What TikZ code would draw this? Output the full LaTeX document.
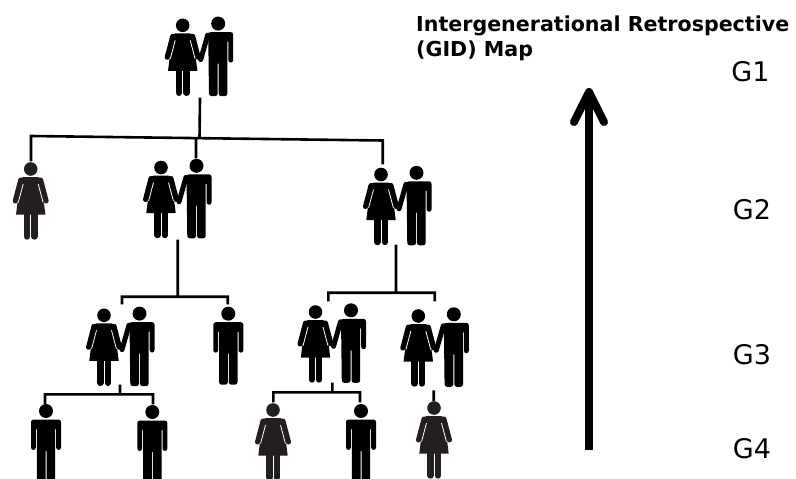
\documentclass[tikz,border=0pt]{standalone}
\usepackage{fontspec}
\setmainfont{DejaVu Sans}
\usetikzlibrary{arrows.meta}
\definecolor{softblack}{HTML}{231F20}
\tikzset{
  slit/.style={white,line width=.8pt},
  limb/.style={line width=5pt,line cap=round},
  leg/.style={line width=6.4pt,line cap=round},
  wire/.style={line width=2.6pt,line cap=rect},
  pics/woman/.style={code={
    \fill (0,0) circle (6.8);
    \fill (-14.7,45.5) [rounded corners=3] -- (-10,8) -- (10,8) [sharp corners] -- (14.7,45.5) -- cycle;
    \draw[limb] (-10,11) -- (-15.5,32);
    \draw[limb] (10,11) -- (15.5,32);
    \draw[slit] (-7.5,15) -- (-12.4,33.5);
    \draw[slit] (7.5,15) -- (12.4,33.5);
    \draw[leg] (-3.7,45) -- (-3.7,67.5);
    \draw[leg] (3.7,45) -- (3.7,67.5);
  }},
  pics/man/.style={code={
    \fill (0,0) circle (7);
    \fill[rounded corners=2.5] (-15,39) -- (-15,8.5) -- (15,8.5) -- (15,39) -- (10.2,39) -- (10.2,16)
      -- (9.2,16) -- (9.2,71) -- (.5,71) -- (.5,38) -- (-.5,38) -- (-.5,71) -- (-9.2,71)
      -- (-9.2,16) -- (-10.2,16) -- (-10.2,39) -- cycle;
  }},
  pics/couple/.style={code={
    \pic at (0,0) {woman};
    \begin{scope}[shift={(35.5,-1.7)}]
      \fill (0,0) circle (7);
      \fill[rounded corners=2.5] (-10,8.5) -- (15,8.5) -- (15,39) -- (10.2,39) -- (10.2,16) -- (9.2,16)
        -- (9.2,72.5) -- (.5,72.5) -- (.5,38) -- (-.5,38) -- (-.5,72.5) -- (-9.2,72.5) -- cycle;
      \draw[limb] (-10.5,11.5) -- (-17.5,36);
    \end{scope}
  }}
}

\begin{document}
\begin{tikzpicture}[x=1pt,y=-1pt]
  \useasboundingbox (0,0) rectangle (796,479);

  % generations, top to bottom
  \pic at (182.7,25.3) {couple};
  \pic[color=softblack] at (30.7,169) {woman};
  \pic at (161,167.5) {couple};
  \pic at (381,174.5) {couple};
  \pic at (104,315.3) {couple};
  \pic at (228.3,313.7) {man};
  \pic at (315.5,312) {couple};
  \pic at (418.3,316) {couple};
  \pic at (46,411) {man};
  \pic at (152.3,412) {man};
  \pic[color=softblack] at (273,410) {woman};
  \pic at (361,411) {man};
  \pic[color=softblack] at (434,408) {woman};

  % tree junctions
  \coordinate (rootstem) at (200,99);
  \coordinate (rootjoin) at (199.5,138);
  \coordinate (auntl) at (31,136);
  \coordinate (auntdrop) at (31,160);
  \coordinate (midtop) at (196,138.5);
  \coordinate (middrop) at (196,157);
  \coordinate (rightr) at (382.7,140.5);
  \coordinate (rightdrop) at (382.7,163);
  \coordinate (midstem) at (177.7,241);
  \coordinate (midjoin) at (177.7,296.7);
  \coordinate (midl) at (122,296.7);
  \coordinate (midr) at (227.7,296.7);
  \coordinate (middl) at (122,303);
  \coordinate (middr) at (227.7,303);
  \coordinate (rightstem) at (396,246);
  \coordinate (rightjoin) at (396,292.7);
  \coordinate (rightl) at (328.3,292.7);
  \coordinate (rightrr) at (434.7,292.7);
  \coordinate (rightdl) at (328.3,300);
  \coordinate (rightdr) at (434.7,300);
  \coordinate (lowstem) at (120,386);
  \coordinate (lowjoin) at (120,394.3);
  \coordinate (lowl) at (45,394.3);
  \coordinate (lowr) at (153,394.3);
  \coordinate (lowdl) at (45,403);
  \coordinate (lowdr) at (153,403);
  \coordinate (innerstem) at (332.3,384);
  \coordinate (innerjoin) at (332.3,392.3);
  \coordinate (innerl) at (273.3,392.3);
  \coordinate (innerr) at (360,392.3);
  \coordinate (innerdl) at (273.3,401);
  \coordinate (innerdr) at (360,401);
  \coordinate (laststem) at (433.7,391.7);
  \coordinate (lastdrop) at (433.7,400);

  \path[wire,draw] (rootstem) -- (rootjoin)
    (auntdrop) -- (auntl) -- (rightr) -- (rightdrop)
    (midtop) -- (middrop)
    (midstem) -- (midjoin)
    (middl) -- (midl) -- (midr) -- (middr)
    (rightstem) -- (rightjoin)
    (rightdl) -- (rightl) -- (rightrr) -- (rightdr)
    (lowstem) -- (lowjoin)
    (lowdl) -- (lowl) -- (lowr) -- (lowdr)
    (innerstem) -- (innerjoin)
    (innerdl) -- (innerl) -- (innerr) -- (innerdr)
    (laststem) -- (lastdrop);

  % time arrow
  \coordinate (arrowfoot) at (589,450);
  \coordinate (arrowtip) at (589,88);
  \draw[line width=8pt,-{Straight Barb[length=30pt,width=30pt,line width=8pt,round]}] (arrowfoot) -- (arrowtip);

  \node[anchor=north west,align=left,inner sep=0pt,font=\fontsize{20.6}{25}\selectfont\bfseries] (title) at (416,16)
    {Intergenerational Retrospective\\(GID) Map};
  \node[font=\fontsize{27}{27}\selectfont] (gone) at (750.5,72) {G1};
  \node[font=\fontsize{27}{27}\selectfont] (gtwo) at (752,210) {G2};
  \node[font=\fontsize{27}{27}\selectfont] (gthree) at (752,355) {G3};
  \node[font=\fontsize{27}{27}\selectfont] (gfour) at (752,449) {G4};
\end{tikzpicture}
\end{document}
